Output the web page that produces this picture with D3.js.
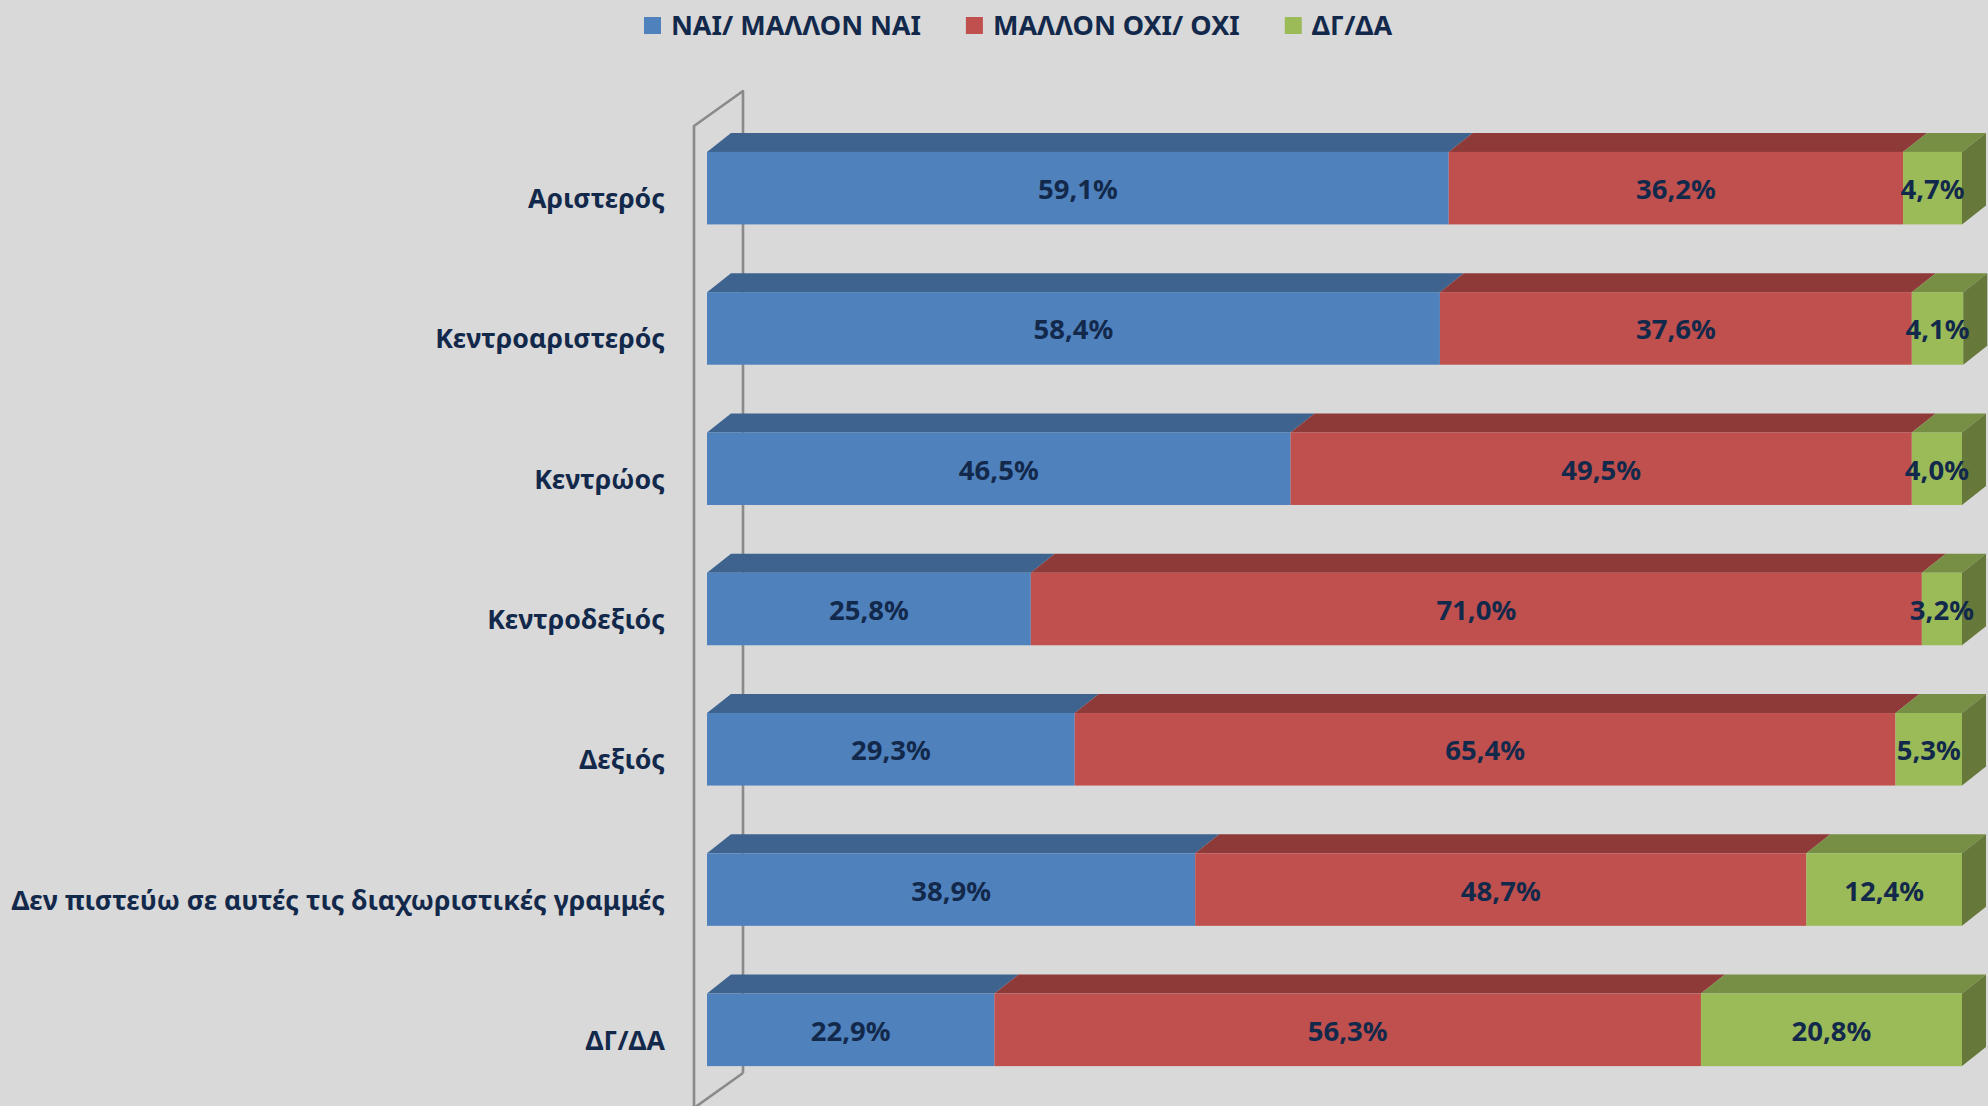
<!DOCTYPE html>
<html>
<head>
<meta charset="utf-8">
<script src="https://cdn.jsdelivr.net/npm/d3@7"></script>
<style>
  html, body { margin: 0; padding: 0; background: #d9d9d9; }
  svg { display: block; }
  text { font-family: "Noto Sans", "Open Sans", sans-serif; font-weight: bold; fill: #13294b; }
</style>
</head>
<body>
<svg id="chart" width="1988" height="1106"></svg>
<script>
// Categories (political self-placement) and the three answer series, in percent
const categories = [
  "Αριστερός",
  "Κεντροαριστερός",
  "Κεντρώος",
  "Κεντροδεξιός",
  "Δεξιός",
  "Δεν πιστεύω σε αυτές τις διαχωριστικές γραμμές",
  "ΔΓ/ΔΑ"
];
const seriesNames = ["ΝΑΙ/ ΜΑΛΛΟΝ ΝΑΙ", "ΜΑΛΛΟΝ ΟΧΙ/ ΟΧΙ", "ΔΓ/ΔΑ"];
const yesValues  = [59.1, 58.4, 46.5, 25.8, 29.3, 38.9, 22.9];
const noValues   = [36.2, 37.6, 49.5, 71.0, 65.4, 48.7, 56.3];
const dkValues   = [4.7, 4.1, 4.0, 3.2, 5.3, 12.4, 20.8];
const xDomain = [0, 100];

// Face colours: front, top, side
const palette = [
  { front: "#4f81bd", top: "#3e638f", side: "#34547a" },
  { front: "#c0504d", top: "#8e3a39", side: "#7a3130" },
  { front: "#9bbb59", top: "#778f44", side: "#66793a" }
];

const keys = ["yes", "no", "dk"];
const rows = categories.map((c, i) => ({ cat: c, yes: yesValues[i], no: noValues[i], dk: dkValues[i] }));
const stacked = d3.stack().keys(keys)(rows);

const svg = d3.select("#chart");

const x = d3.scaleLinear().domain(xDomain).range([707, 1962]);
const y = d3.scaleBand().domain(categories).range([118, 1100])
  .paddingInner(0.483).paddingOuter(0.2415);

// Projection of the depth axis for a bar, and the wall planes around it
const depth = { dx: 24, dy: -19 };
const wallFront = { dx: -13, dy: 8 };
const wallBack = { dx: 36, dy: -27 };

// Side wall (outline only)
const [r0, r1] = y.range();
const x0 = x(0);
const wallPts = [
  [x0 + wallFront.dx, r1 + wallFront.dy + 40],
  [x0 + wallFront.dx, r0 + wallFront.dy],
  [x0 + wallBack.dx, r0 + wallBack.dy],
  [x0 + wallBack.dx, r1 + wallBack.dy],
  [x0 + wallFront.dx, r1 + wallFront.dy]
];
const wallStroke = { color: "#8a8a8a", width: 2.6 };
svg.append("path")
  .attr("d", d3.line()(wallPts.slice(0, 4)) + "M" + wallPts[3].join(",") + "L" + wallPts[4].join(","))
  .attr("fill", "none")
  .attr("stroke", wallStroke.color)
  .attr("stroke-width", wallStroke.width)
  .attr("stroke-linejoin", "round");
svg.append("line")
  .attr("x1", wallPts[4][0]).attr("y1", wallPts[4][1])
  .attr("x2", wallPts[0][0]).attr("y2", wallPts[0][1])
  .attr("stroke", wallStroke.color).attr("stroke-width", wallStroke.width);

const bw = y.bandwidth();
const fmt = v => d3.format(".1f")(v).replace(".", ",") + "%";

// Bars: for every category draw the stacked segments with a top face,
// plus a side face on the last segment
const barsG = svg.append("g");
rows.forEach((row, i) => {
  const g = barsG.append("g");
  const yt = y(row.cat);
  stacked.forEach((s, k) => {
    const d = s[i];
    const xa = x(d[0]), xb = x(d[1]);
    const col = palette[k];
    // top face
    g.append("path")
      .attr("d", `M${xa},${yt} L${xa + depth.dx},${yt + depth.dy} L${xb + depth.dx},${yt + depth.dy} L${xb},${yt} Z`)
      .attr("fill", col.top);
    // front face
    g.append("rect")
      .attr("x", xa).attr("y", yt)
      .attr("width", xb - xa).attr("height", bw)
      .attr("fill", col.front);
    if (k === stacked.length - 1) {
      g.append("path")
        .attr("d", `M${xb},${yt} L${xb + depth.dx},${yt + depth.dy} L${xb + depth.dx},${yt + bw + depth.dy} L${xb},${yt + bw} Z`)
        .attr("fill", col.side);
    }
  });
  // value labels
  stacked.forEach((s, k) => {
    const d = s[i];
    g.append("text")
      .attr("x", (x(d[0]) + x(d[1])) / 2)
      .attr("y", yt + bw / 2 + 11)
      .attr("text-anchor", "middle")
      .attr("font-size", 27.5)
      .text(fmt(d.data[keys[k]]));
  });
});

// Category labels
svg.append("g").selectAll("text").data(categories).join("text")
  .attr("x", 665)
  .attr("y", d => y(d) + bw / 2 + 20)
  .attr("text-anchor", "end")
  .attr("font-size", 26.7)
  .text(d => d);

// Legend
const legend = svg.append("g");
let lx = 644;
seriesNames.forEach((name, k) => {
  legend.append("rect")
    .attr("x", lx).attr("y", 17)
    .attr("width", 17).attr("height", 17)
    .attr("fill", palette[k].front);
  const t = legend.append("text")
    .attr("x", lx + 27).attr("y", 35)
    .attr("font-size", 27)
    .text(name);
  lx += 27 + t.node().getComputedTextLength() + 45;
});
</script>
</body>
</html>
